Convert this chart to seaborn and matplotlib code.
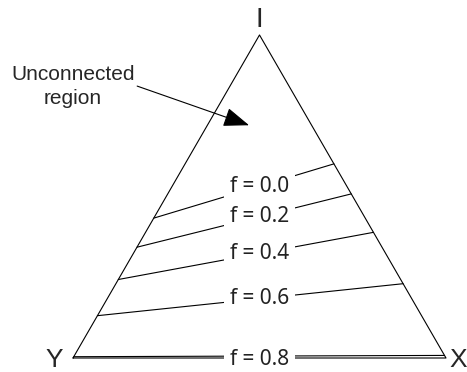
import numpy as np
import pandas as pd
import matplotlib
matplotlib.use("Agg")
import matplotlib.pyplot as plt
import seaborn as sns

# triangle corners (Y bottom-left, X bottom-right, I top)
vertex_names = ["Y", "X", "I"]
vertex_x = [0.0, 1.0, 0.5]
vertex_y = [0.0, 0.0, np.sqrt(3) / 2]

# f contour lines: height fraction where each line meets the left (Y-I) and right (X-I) edge
f_values = [0.0, 0.2, 0.4, 0.6, 0.8]
left_frac = [0.433, 0.343, 0.243, 0.131, 0.004]
right_frac = [0.601, 0.508, 0.389, 0.230, 0.008]

sns.set_style("white")
plt.rcParams["font.family"] = ["Liberation Sans", "DejaVu Sans"]

fig = plt.figure(figsize=(4.67, 3.72), dpi=100)
ax = fig.add_axes([0, 0, 1, 1])

Y = np.array([vertex_x[0], vertex_y[0]])
X = np.array([vertex_x[1], vertex_y[1]])
I = np.array([vertex_x[2], vertex_y[2]])

# triangle outline
tri = pd.DataFrame({"x": vertex_x + [vertex_x[0]], "y": vertex_y + [vertex_y[0]]})
sns.lineplot(data=tri, x="x", y="y", sort=False, estimator=None,
             color="black", lw=0.8, ax=ax)

rows = []
for f, lf, rf in zip(f_values, left_frac, right_frac):
    p0 = Y + lf * (I - Y)
    p1 = X + rf * (I - X)
    rows.append({"f": f, "x": p0[0], "y": p0[1]})
    rows.append({"f": f, "x": p1[0], "y": p1[1]})
lines = pd.DataFrame(rows)
sns.lineplot(data=lines, x="x", y="y", units="f", estimator=None, sort=False,
             color="black", lw=0.8, ax=ax)

# labels sitting on each line at the middle
for f, grp in lines.groupby("f"):
    yl = np.interp(0.5, grp["x"].values, grp["y"].values)
    if f == 0.8:
        yl = -0.004
    ax.text(0.5, yl, f"f = {f:.1f}", ha="center", va="center", fontsize=15,
            family=["Noto Sans", "DejaVu Sans"], color="#222222",
            bbox=dict(boxstyle="square,pad=0.28", fc="white", ec="none"), zorder=5)

# vertex labels
ax.text(I[0], 0.905, "I", ha="center", va="center", fontsize=20)
ax.text(-0.05, -0.005, "Y", ha="center", va="center", fontsize=19)
ax.text(1.032, -0.005, "X", ha="center", va="center", fontsize=19)

ax.text(0.0, 0.727, "Unconnected\nregion", ha="center", va="center",
        fontsize=15, linespacing=1.35)
ax.annotate("", xy=(0.472, 0.624), xytext=(0.172, 0.729),
            arrowprops=dict(arrowstyle="-|>,head_length=0.8,head_width=0.3",
                            color="black", lw=0.8, mutation_scale=20,
                            shrinkA=0, shrinkB=0))

ax.set_xlim(-73 / 373, 394 / 373)
ax.set_ylim(-14 / 373, 358 / 373)
ax.set_axis_off()
if ax.get_legend():
    ax.get_legend().remove()

fig.savefig("out.png", dpi=100)
